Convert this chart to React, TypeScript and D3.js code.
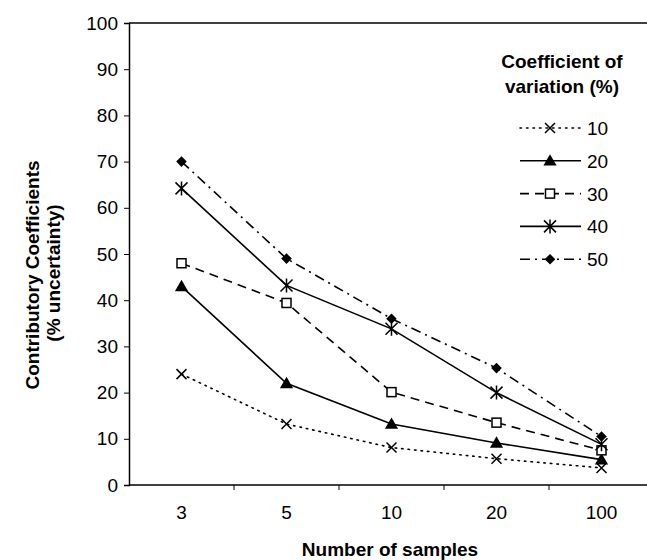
import { useEffect, useRef } from 'react';
import * as d3 from 'd3';

const categories = ['3', '5', '10', '20', '100'];
const seriesNames = ['10', '20', '30', '40', '50'];
const cv10 = [24, 13.2, 8.1, 5.7, 3.7];
const cv20 = [43, 22, 13.2, 9.1, 5.5];
const cv30 = [48, 39.4, 20.1, 13.5, 7.5];
const cv40 = [64.2, 43.2, 33.8, 20, 8.8];
const cv50 = [70, 49, 36, 25.3, 10.5];
const yTicks = [0, 10, 20, 30, 40, 50, 60, 70, 80, 90, 100];

const FONT = 'Liberation Sans, Arial, sans-serif';

const styles = [
  { dash: '1.5,5', marker: 'x' },
  { dash: null, marker: 'triangle' },
  { dash: '9,6', marker: 'square' },
  { dash: null, marker: 'star' },
  { dash: '10,5,2,5', marker: 'diamond' },
];

function drawMarker(g: d3.Selection<SVGGElement, unknown, null, undefined>, kind: string, x: number, y: number) {
  if (kind === 'x') {
    const s = 5;
    g.append('path')
      .attr('d', `M${x - s},${y - s}L${x + s},${y + s}M${x - s},${y + s}L${x + s},${y - s}`)
      .attr('stroke', '#000').attr('stroke-width', 1.5).attr('fill', 'none');
  } else if (kind === 'star') {
    const s = 6;
    g.append('path')
      .attr('d', `M${x - s},${y - s}L${x + s},${y + s}M${x - s},${y + s}L${x + s},${y - s}M${x},${y - s - 1}L${x},${y + s + 1}`)
      .attr('stroke', '#000').attr('stroke-width', 1.5).attr('fill', 'none');
  } else if (kind === 'triangle') {
    g.append('path')
      .attr('d', d3.symbol().type(d3.symbolTriangle).size(75)())
      .attr('transform', `translate(${x},${y + 1})`)
      .attr('fill', '#000');
  } else if (kind === 'square') {
    g.append('rect')
      .attr('x', x - 4.5).attr('y', y - 4.5).attr('width', 9).attr('height', 9)
      .attr('fill', '#fff').attr('stroke', '#000').attr('stroke-width', 1.5);
  } else if (kind === 'diamond') {
    g.append('path')
      .attr('d', d3.symbol().type(d3.symbolSquare).size(56)())
      .attr('transform', `translate(${x},${y}) rotate(45)`)
      .attr('fill', '#000');
  }
}

export default function App() {
  const svgRef = useRef<SVGSVGElement | null>(null);

  useEffect(() => {
    if (!svgRef.current) return;
    const width = 647;
    const height = 560;
    const svg = d3.select(svgRef.current);
    svg.selectAll('*').remove();
    svg.attr('width', width).attr('height', height);

    const x = d3.scaleBand<string>().domain(categories).range([129, 654]).padding(0);
    const y = d3.scaleLinear().domain([0, 100]).range([485, 23]);
    const allSeries = [cv10, cv20, cv30, cv40, cv50];

    // top border
    svg.append('line')
      .attr('x1', 129).attr('x2', width).attr('y1', y(100)).attr('y2', y(100))
      .attr('stroke', '#000').attr('stroke-width', 1.3);

    // y axis
    const yAxis = svg.append('g')
      .attr('transform', 'translate(129,0)')
      .call(d3.axisLeft(y).tickValues(yTicks).tickSize(5).tickPadding(6));
    yAxis.select('.domain').attr('stroke-width', 1.5);
    yAxis.selectAll('text').attr('font-family', FONT).attr('font-size', 19).attr('fill', '#000');

    // x axis
    const xAxis = svg.append('g')
      .attr('transform', `translate(0,${y(0)})`)
      .call(d3.axisBottom(x).tickSize(0).tickPadding(21));
    xAxis.select('.domain').attr('d', `M129,0H${width}`).attr('stroke-width', 1.5);
    xAxis.selectAll('text').attr('font-family', FONT).attr('font-size', 19).attr('fill', '#000');
    categories.slice(1).forEach((c) => {
      xAxis.append('line')
        .attr('x1', x(c)!).attr('x2', x(c)!).attr('y1', 0).attr('y2', 5)
        .attr('stroke', '#000');
    });

    const line = d3.line<number>()
      .x((_, i) => x(categories[i])! + x.bandwidth() / 2)
      .y((d) => y(d));

    allSeries.forEach((vals, si) => {
      const st = styles[si];
      const g = svg.append('g');
      const p = g.append('path')
        .attr('d', line(vals))
        .attr('fill', 'none')
        .attr('stroke', '#000')
        .attr('stroke-width', 1.6);
      if (st.dash) p.attr('stroke-dasharray', st.dash);
      if (si === 0) p.attr('stroke-linecap', 'round');
      vals.forEach((v, i) => {
        drawMarker(g, st.marker, x(categories[i])! + x.bandwidth() / 2, y(v));
      });
    });

    // legend
    const lg = svg.append('g');
    lg.append('text').attr('x', 562).attr('y', 68).attr('text-anchor', 'middle')
      .attr('font-family', FONT).attr('font-size', 19).attr('font-weight', 'bold').text('Coefficient of');
    lg.append('text').attr('x', 562).attr('y', 93).attr('text-anchor', 'middle')
      .attr('font-family', FONT).attr('font-size', 19).attr('font-weight', 'bold').text('variation (%)');
    seriesNames.forEach((name, i) => {
      const ly = 128 + i * 32.8;
      const st = styles[i];
      const l = lg.append('line').attr('x1', 520).attr('x2', 581).attr('y1', ly).attr('y2', ly)
        .attr('stroke', '#000').attr('stroke-width', 1.6);
      if (st.dash) l.attr('stroke-dasharray', st.dash);
      if (i === 0) l.attr('stroke-linecap', 'round');
      drawMarker(lg, st.marker, 550, ly);
      lg.append('text').attr('x', 587).attr('y', ly + 7)
        .attr('font-family', FONT).attr('font-size', 19).text(name);
    });

    // axis titles
    svg.append('text').attr('x', 390).attr('y', 556).attr('text-anchor', 'middle')
      .attr('font-family', FONT).attr('font-size', 19).attr('font-weight', 'bold').text('Number of samples');
    svg.append('text').attr('transform', 'translate(39,275) rotate(-90)').attr('text-anchor', 'middle')
      .attr('font-family', FONT).attr('font-size', 19).attr('font-weight', 'bold').text('Contributory Coefficients');
    svg.append('text').attr('transform', 'translate(60,273) rotate(-90)').attr('text-anchor', 'middle')
      .attr('font-family', FONT).attr('font-size', 19).attr('font-weight', 'bold').text('(% uncertainty)');
  }, []);

  return <svg ref={svgRef} style={{ position: 'absolute', left: 0, top: 0 }}></svg>;
}
